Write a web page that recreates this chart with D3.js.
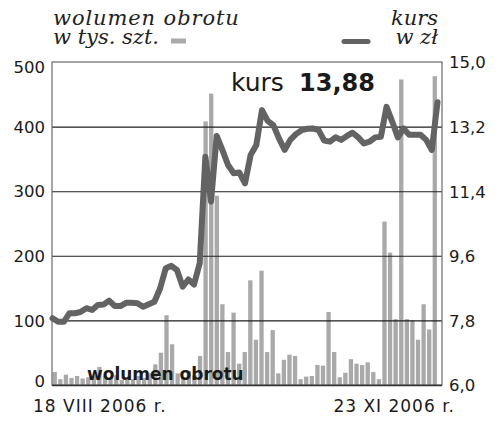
<!DOCTYPE html>
<html>
<head>
<meta charset="utf-8">
<script src="https://cdn.jsdelivr.net/npm/d3@7"></script>
<style>
  body { margin: 0; background: #fff; }
  svg text { font-family: "DejaVu Sans", sans-serif; fill: #1a1a1a; }
  .legend text { font-family: "DejaVu Serif", serif; font-style: italic; font-size: 21px; fill: #222; }
</style>
</head>
<body>
<div id="chart"></div>
<script>
// wolumen obrotu (tys. szt.), one bar per session, 18 VIII - 23 XI 2006
var volume = [20, 9, 16, 11, 14, 10, 12, 15, 28, 14, 10, 15, 8, 12, 9, 14, 11, 18, 32, 50,
  108, 63, 18, 12, 22, 15, 45, 408, 451, 293, 125, 51, 112, 33, 51, 162, 70, 177, 51, 85,
  18, 39, 47, 45, 9, 13, 14, 31, 30, 113, 51, 12, 19, 40, 33, 31, 35, 20, 9, 253,
  205, 102, 473, 102, 100, 70, 125, 86, 478];
// kurs (zl)
var kurs = [7.86, 7.76, 7.76, 8.00, 8.00, 8.04, 8.14, 8.09, 8.23, 8.24, 8.35, 8.20, 8.20, 8.29, 8.29, 8.28, 8.18, 8.25, 8.32, 8.69,
  9.25, 9.32, 9.20, 8.74, 8.94, 8.80, 9.39, 12.36, 11.11, 12.94, 12.55, 12.13, 11.90, 11.92, 11.62, 12.41, 12.69, 13.66, 13.36, 13.24,
  12.87, 12.55, 12.83, 12.99, 13.10, 13.14, 13.15, 13.10, 12.81, 12.78, 12.90, 12.83, 12.94, 13.03, 12.90, 12.73, 12.78, 12.90, 12.92, 13.75,
  13.34, 12.90, 13.15, 12.97, 12.97, 12.97, 12.83, 12.55, 13.88];
var volTicks = [0, 100, 200, 300, 400, 500];
var kursTicks = [6.0, 7.8, 9.6, 11.4, 13.2, 15.0];
var dateLabels = ["18 VIII 2006 r.", "23 XI 2006 r."];
var lastKurs = "13,88";

var margin = { top: 62, right: 58, bottom: 45, left: 52 },
    width = 500 - margin.left - margin.right,
    height = 430 - margin.top - margin.bottom;

var svg = d3.select("#chart").append("svg").attr("width", 500).attr("height", 430);
var g = svg.append("g").attr("transform", "translate(" + margin.left + "," + margin.top + ")");

var idx = d3.range(volume.length);
var x = d3.scaleBand().domain(idx).range([0, 385.5]).paddingInner(0.23).paddingOuter(0.1);
var xl = d3.scalePoint().domain(idx).range([0.5, 385.5]);
var yVol = d3.scaleLinear().domain([0, 500]).range([height, 0]);
var yKurs = d3.scaleLinear().domain([6, 15]).range([height, 0]);

// bars
g.selectAll("rect.bar").data(volume).enter().append("rect")
  .attr("class", "bar")
  .attr("x", function (d, i) { return x(i); })
  .attr("width", x.bandwidth())
  .attr("y", function (d) { return yVol(d); })
  .attr("height", function (d) { return height - yVol(d); })
  .attr("fill", "#a9a9a9");

// grid
g.append("g").call(d3.axisLeft(yVol).tickValues([100, 200, 300, 400]).tickSize(-width).tickFormat(""))
  .call(function (s) { s.select(".domain").remove(); })
  .selectAll("line").attr("stroke", "#1e1e1e").attr("stroke-width", 1.1);

// frame
g.append("rect").attr("width", width).attr("height", height)
  .attr("fill", "none").attr("stroke", "#6a6a6a").attr("stroke-width", 1.2);
g.append("line").attr("x1", 0).attr("x2", width).attr("y1", height + 0.5).attr("y2", height + 0.5)
  .attr("stroke", "#333").attr("stroke-width", 1.5);

// left axis labels
var left = g.append("g").call(d3.axisLeft(yVol).tickValues(volTicks).tickSize(0).tickPadding(7));
left.select(".domain").remove();
left.selectAll("text").style("font-size", "16.5px").attr("fill", "#1a1a1a")
  .attr("dy", function (d) { return d === 500 ? "0.62em" : d === 0 ? "0.1em" : "0.34em"; });

// right axis labels
var right = g.append("g").attr("transform", "translate(" + width + ",0)")
  .call(d3.axisRight(yKurs).tickValues(kursTicks).tickSize(0).tickPadding(7)
    .tickFormat(function (d) { return d3.format(".1f")(d).replace(".", ","); }));
right.select(".domain").remove();
right.selectAll("text").style("font-size", "16.5px").attr("fill", "#1a1a1a").attr("dy", "0.36em");

// label inside the bars
svg.append("text").attr("x", 87).attr("y", 380)
  .style("font-size", "17px").style("font-weight", "bold").text("wolumen obrotu");

// kurs line
var line = d3.line().x(function (d, i) { return xl(i); }).y(function (d) { return yKurs(d); });
g.append("path").datum(kurs).attr("d", line)
  .attr("fill", "none").attr("stroke", "#636363").attr("stroke-width", 6)
  .attr("stroke-linejoin", "round").attr("stroke-linecap", "round");

// annotation
var ann = svg.append("text").attr("x", 231).attr("y", 90.5).style("font-size", "25px");
ann.append("tspan").text("kurs ");
ann.append("tspan").attr("x", 299).style("font-weight", "bold").style("font-size", "24px").text(lastKurs);

// dates
svg.append("text").attr("x", 33).attr("y", 412).style("font-size", "17px").style("letter-spacing", "1px").text(dateLabels[0]);
svg.append("text").attr("x", 455).attr("y", 412).attr("text-anchor", "end").style("font-size", "17px").style("letter-spacing", "1px").text(dateLabels[1]);

// legend
var lg = svg.append("g").attr("class", "legend");
lg.append("text").attr("x", 53).attr("y", 24.5).style("letter-spacing", "0.9px").text("wolumen obrotu");
lg.append("text").attr("x", 53).attr("y", 43.5).text("w tys. szt.");
lg.append("rect").attr("x", 171).attr("y", 38.5).attr("width", 15).attr("height", 5).attr("fill", "#aaa");
lg.append("line").attr("x1", 344).attr("x2", 368).attr("y1", 41.5).attr("y2", 41.5)
  .attr("stroke", "#636363").attr("stroke-width", 5).attr("stroke-linecap", "round");
lg.append("text").attr("x", 438).attr("y", 24.5).attr("text-anchor", "end").text("kurs");
lg.append("text").attr("x", 438).attr("y", 43.5).attr("text-anchor", "end").text("w zł");
</script>
</body>
</html>
